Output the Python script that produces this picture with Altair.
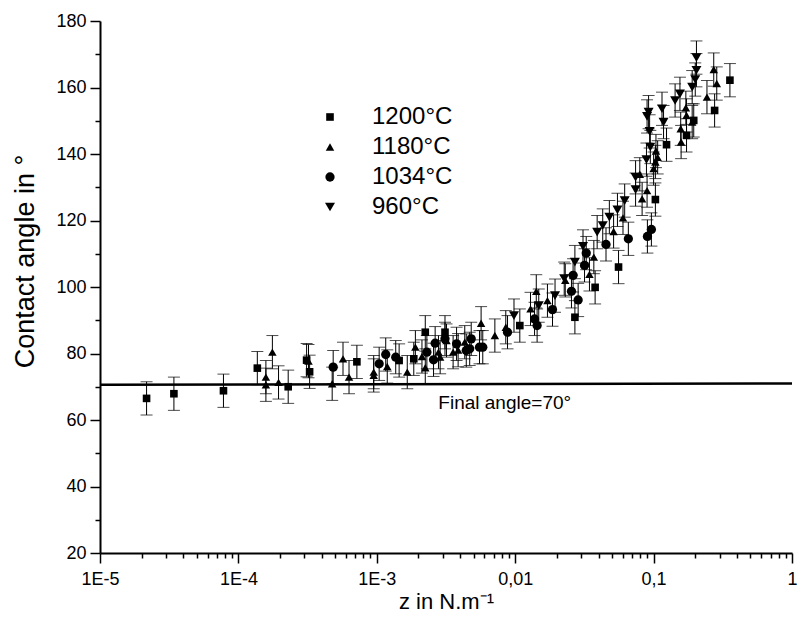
import altair as alt
import pandas as pd

FONT = "Liberation Sans"

SERIES = ["1200°C", "1180°C", "1034°C", "960°C"]

# ---- data (x in N/m, contact angle in degrees) ----
x_1200 = [2.17e-5, 3.42e-5, 7.8e-5, 1.37e-4, 2.29e-4, 3.11e-4, 3.27e-4, 7.18e-4,
          1.45e-3, 1.85e-3, 2.24e-3, 3.11e-3, 1.08e-2, 2.7e-2, 3.78e-2, 5.58e-2,
          0.103, 0.124, 0.173, 0.195, 0.276, 0.356]
y_1200 = [66.5, 67.9, 68.8, 75.6, 70.0, 78.0, 74.5, 77.5,
          77.9, 78.4, 86.4, 86.4, 88.4, 90.9, 99.9, 106.0,
          126.3, 142.8, 145.6, 150.1, 153.1, 162.2]
err_1200 = 5.0

x_1180 = [1.58e-4, 1.58e-4, 1.76e-4, 1.95e-4, 3.21e-4, 4.76e-4, 5.7e-4, 6.3e-4,
          9.5e-4, 9.5e-4, 1.19e-3, 1.66e-3, 1.9e-3, 2.12e-3, 2.24e-3, 2.79e-3,
          2.87e-3, 3.19e-3, 3.56e-3, 3.87e-3, 4.32e-3, 5.67e-3, 7.13e-3, 8.55e-3,
          1.29e-2, 1.42e-2, 1.71e-2, 2.3e-2, 3.44e-2, 3.7e-2, 5.14e-2, 6.01e-2,
          7.95e-2, 8.26e-2, 8.97e-2, 0.1, 0.103, 0.107, 0.104, 0.157,
          0.171, 0.173, 0.158, 0.19, 0.243, 0.272, 0.286]
y_1180 = [72.9, 70.6, 80.4, 71.3, 77.7, 70.9, 78.4, 72.9,
          74.4, 73.4, 76.1, 74.4, 81.9, 79.1, 75.7, 80.4,
          78.9, 83.9, 80.4, 81.0, 83.4, 89.1, 85.4, 87.9,
          93.4, 98.7, 95.9, 102.0, 103.8, 109.0, 116.7, 120.8,
          133.9, 126.5, 129.0, 135.6, 137.6, 139.0, 140.9, 147.6,
          153.9, 151.6, 143.6, 149.6, 157.1, 165.4, 161.2]
err_1180 = 5.0

x_1034 = [4.84e-4, 1.04e-3, 1.16e-3, 1.37e-3, 2.3e-3, 2.57e-3, 2.64e-3, 3.11e-3,
          3.77e-3, 4.43e-3, 4.69e-3, 4.81e-3, 5.52e-3, 5.83e-3, 8.8e-3, 1.38e-2,
          1.44e-2, 1.86e-2, 2.55e-2, 2.62e-2, 2.85e-2, 3.17e-2, 3.26e-2, 4.53e-2,
          6.57e-2, 0.0902, 0.0964]
y_1034 = [75.9, 76.9, 79.7, 78.9, 80.4, 78.1, 83.1, 84.4,
          82.9, 80.9, 81.4, 84.4, 81.9, 81.9, 86.4, 90.4,
          88.4, 93.2, 98.7, 103.5, 96.1, 106.5, 110.2, 112.8,
          114.5, 115.2, 117.3]
err_1034 = 5.0

x_960 = [9.8e-3, 1.48e-2, 1.94e-2, 2.26e-2, 2.7e-2, 3.09e-2, 3.91e-2, 4.29e-2,
         4.79e-2, 5.48e-2, 6.18e-2, 7.41e-2, 7.41e-2, 8.88e-2, 9.47e-2, 9.36e-2,
         8.97e-2, 9.2e-2, 0.115, 0.118, 0.143, 0.155, 0.19, 0.204, 0.204, 0.2]
y_960 = [91.4, 94.4, 97.4, 102.5, 107.5, 112.2, 116.5, 118.5,
         121.0, 123.2, 126.0, 133.0, 129.3, 138.3, 142.1, 146.8,
         151.3, 152.6, 153.6, 149.6, 156.1, 158.1, 160.1, 169.0, 165.2, 162.4]
err_960 = 5.0

# final-angle reference line and its label
line_x = [0.00001, 1.0]
line_y = [70.6, 71.0]
note_x = [0.0084]
note_y = [65.2]
note_text = ["Final angle=70°"]

# axis ticks
X_MAJOR_LABELS = ["1E-5", "1E-4", "1E-3", "0,01", "0,1", "1"]
X_DECADES = [0.00001, 0.0001, 0.001, 0.01, 0.1]
X_MULT = [1, 2, 3, 4, 5, 6, 7, 8, 9]
Y_TICKS = [20, 30, 40, 50, 60, 70, 80, 90, 100, 110, 120, 130, 140, 150, 160, 170, 180]

# ---- tables ----
rows = []
for name, xs, ys, e in [(SERIES[0], x_1200, y_1200, err_1200),
                        (SERIES[1], x_1180, y_1180, err_1180),
                        (SERIES[2], x_1034, y_1034, err_1034),
                        (SERIES[3], x_960, y_960, err_960)]:
    for xv, yv in zip(xs, ys):
        rows.append({"series": name, "x": xv, "y": yv, "lo": yv - e, "hi": yv + e})
df = pd.DataFrame(rows)
line_df = pd.DataFrame({"x": line_x, "y": line_y})
note_df = pd.DataFrame({"x": note_x, "y": note_y, "t": note_text})

x_ticks = [d * m for d in X_DECADES for m in X_MULT] + [1.0]

MAJOR_TEST = "abs(log(datum.value)/LN10 - round(log(datum.value)/LN10)) < 0.001"
labels_js = "[" + ",".join("'%s'" % l for l in X_MAJOR_LABELS) + "]"
x_label_expr = "(%s) ? %s[round(log(datum.value)/LN10) + 5] : ''" % (MAJOR_TEST, labels_js)

x_scale = alt.Scale(type="log", domain=[0.00001, 1], nice=False)
y_scale = alt.Scale(domain=[20, 180], nice=False, zero=False)

common_axis = dict(grid=False, domainColor="black", domainWidth=2, tickColor="black",
                   tickWidth=1.5, labelColor="black", titleColor="black",
                   labelFont=FONT, titleFont=FONT, labelOverlap=False, labelFlush=False,
                   titleFontWeight="normal")

x_axis = alt.Axis(values=x_ticks, labelExpr=x_label_expr,
                  tickSize={"condition": {"test": MAJOR_TEST, "value": 10}, "value": 5},
                  title="z in N.m⁻¹", titleFontSize=22, labelFontSize=18,
                  labelPadding=7, titlePadding=3, **common_axis)
y_axis = alt.Axis(values=Y_TICKS, labelExpr="datum.value % 20 == 0 ? datum.label : ''",
                  tickSize={"condition": {"test": "datum.value % 20 == 0", "value": 10}, "value": 5},
                  title="Contact angle in °", titleFontSize=27, labelFontSize=18,
                  labelPadding=4, titlePadding=16, titleY=240, titleAlign="center",
                  **common_axis)


def X(field="x"):
    return alt.X(field + ":Q", scale=x_scale, axis=x_axis)


def Y(field="y"):
    return alt.Y(field + ":Q", scale=y_scale, axis=y_axis)


legend = alt.Legend(orient="none", legendX=218, legendY=84, title=None,
                    labelFont=FONT, labelFontSize=24, labelColor="black",
                    symbolFillColor="black", symbolStrokeColor="black",
                    symbolStrokeWidth=0, labelOffset=30, rowPadding=6, padding=0)

line = alt.Chart(line_df).mark_line(color="black", strokeWidth=2.5).encode(x=X(), y=Y())

bars = alt.Chart(df).mark_rule(color="black", strokeWidth=1).encode(
    x=X(), y=Y("lo"), y2="hi:Q")

caps = alt.Chart(df).transform_fold(["lo", "hi"], as_=["which", "cap"]).mark_tick(
    orient="horizontal", size=12, thickness=1, color="black").encode(x=X(), y=Y("cap"))

points = alt.Chart(df).mark_point(filled=True, opacity=1).encode(
    x=X(), y=Y(),
    color=alt.value("black"),
    shape=alt.Shape("series:N",
                    scale=alt.Scale(domain=SERIES,
                                    range=["square", "triangle-up", "circle", "triangle-down"]),
                    legend=legend),
    size=alt.Size("series:N",
                  scale=alt.Scale(domain=SERIES, range=[58, 100, 68, 100]), legend=legend),
)

note = alt.Chart(note_df).mark_text(font=FONT, fontSize=19, color="black",
                                    align="center", baseline="middle").encode(
    x=X(), y=Y(), text="t:N")

chart = alt.layer(line, bars, caps, points, note).properties(
    width=692, height=532,
    padding={"left": 92, "top": 13, "right": 5, "bottom": 63},
    autosize=alt.AutoSizeParams(type="none"),
    background="white",
).configure_view(stroke=None)

chart.save("out.html", embed_options={"renderer": "svg", "actions": False})
